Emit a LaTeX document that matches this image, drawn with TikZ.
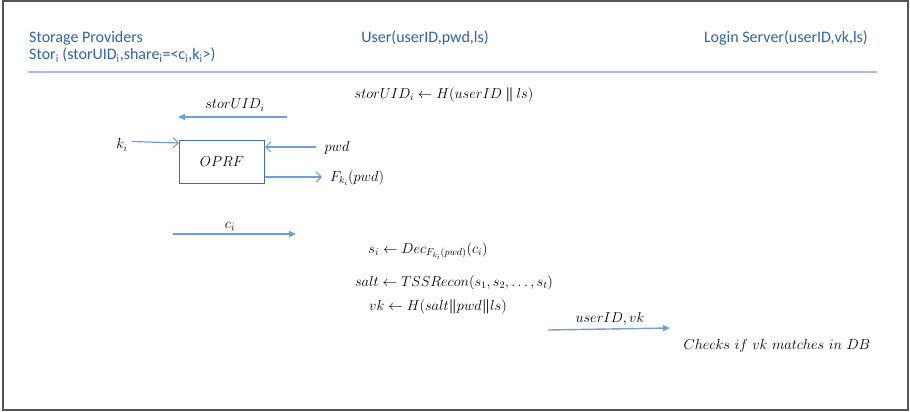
\documentclass[tikz,border=0pt]{standalone}
\usepackage{amsmath}
\usepackage{fontspec}
\newfontfamily\hdrfont{Carlito}
\usetikzlibrary{arrows.meta}
\definecolor{hdrblue}{RGB}{46,100,165}
\definecolor{arrblue}{RGB}{112,159,214}
\definecolor{boxblue}{RGB}{65,113,156}
\definecolor{sepblue}{RGB}{165,192,224}
\definecolor{framegray}{RGB}{85,85,85}
\newcommand{\bbar}{\mathbin{\boldsymbol{\|}}}
\begin{document}
\begin{tikzpicture}[x=1pt,y=-1pt,
  hdr/.style={font=\hdrfont\fontsize{16}{19}\selectfont, text=hdrblue, inner sep=0pt},
  mt/.style={font=\fontsize{14}{17}\selectfont, inner sep=0pt},
  farrow/.style={draw=arrblue, line width=1.4pt, -{Triangle[length=7pt,width=6pt]}},
  oarrow/.style={draw=arrblue, line width=1.2pt, -{Straight Barb[length=5pt,width=10pt,line width=1.1pt]}},
  fnbox/.style={draw=boxblue, line width=1.1pt, minimum width=85pt, minimum height=43pt, inner sep=0pt, font=\fontsize{14}{17}\selectfont},
  framebox/.style={draw=framegray, line width=1.5pt},
  sepline/.style={draw=sepblue, line width=1.5pt}]
\useasboundingbox (0,0) rectangle (910,412);
\draw[framebox] (3,1) rectangle (908,410);
% headers
\node[hdr, anchor=west] (sp) at (29,38) {Storage Providers};
\node[hdr, anchor=west] (stor) at (29,55) {Stor\textsubscript{i} (storUID\textsubscript{i},share\textsubscript{i}=<c\textsubscript{i},k\textsubscript{i}>)};
\node[hdr] (user) at (425,38) {User(userID,pwd,ls)};
\node[hdr, anchor=east] (login) at (868,38) {Login Server(userID,vk,ls)};
\coordinate (sepL) at (28,72);
\coordinate (sepR) at (877,72);
\draw[sepline] (sepL) -- (sepR);
% storUID computation
\node[mt] (h1) at (444,95) {$storUID_i \leftarrow H(userID \bbar ls)$};
% storUID arrow
\coordinate (su1) at (287,117);
\coordinate (su2) at (178,117);
\draw[farrow] (su1) -- (su2);
\node[mt] (sulab) at (235,105) {$storUID_i$};
% OPRF
\node[fnbox] (oprf) at (222,162) {$OPRF$};
\node[mt] (ki) at (122,145) {$k_i$};
\coordinate (kiS) at (132,141.5);
\draw[oarrow] (kiS) -- (oprf.west |- 0,143);
\node[mt] (pwd) at (337,148) {$pwd$};
\coordinate (pwdS) at (316,147);
\draw[oarrow] (pwdS) -- (oprf.east |- pwdS);
\node[mt] (F) at (357,178) {$F_{k_i}(pwd)$};
\coordinate (FE) at (322,177);
\draw[oarrow] (oprf.east |- FE) -- (FE);
% c_i arrow
\coordinate (c1) at (173,234);
\coordinate (c2) at (296,234);
\draw[farrow] (c1) -- (c2);
\node[mt] (cilab) at (230,226) {$c_i$};
% computations
\node[mt] (dec) at (428,251) {$s_i \leftarrow Dec_{F_{k_i}(pwd)}(c_i)$};
\node[mt] (salt) at (454,283) {$salt \leftarrow TSSRecon(s_1,s_2,\ldots,s_t)$};
\node[mt] (vk) at (438,307) {$vk \leftarrow H(salt\boldsymbol{\|}pwd\boldsymbol{\|}ls)$};
% userID,vk arrow
\coordinate (u1) at (548,330);
\coordinate (u2) at (670,328);
\draw[farrow] (u1) -- (u2);
\node[mt] (ulab) at (610,319) {$userID,vk$};
\node[mt] (chk) at (777,346) {$Checks\ if\ vk\ matches\ in\ DB$};
\end{tikzpicture}
\end{document}
